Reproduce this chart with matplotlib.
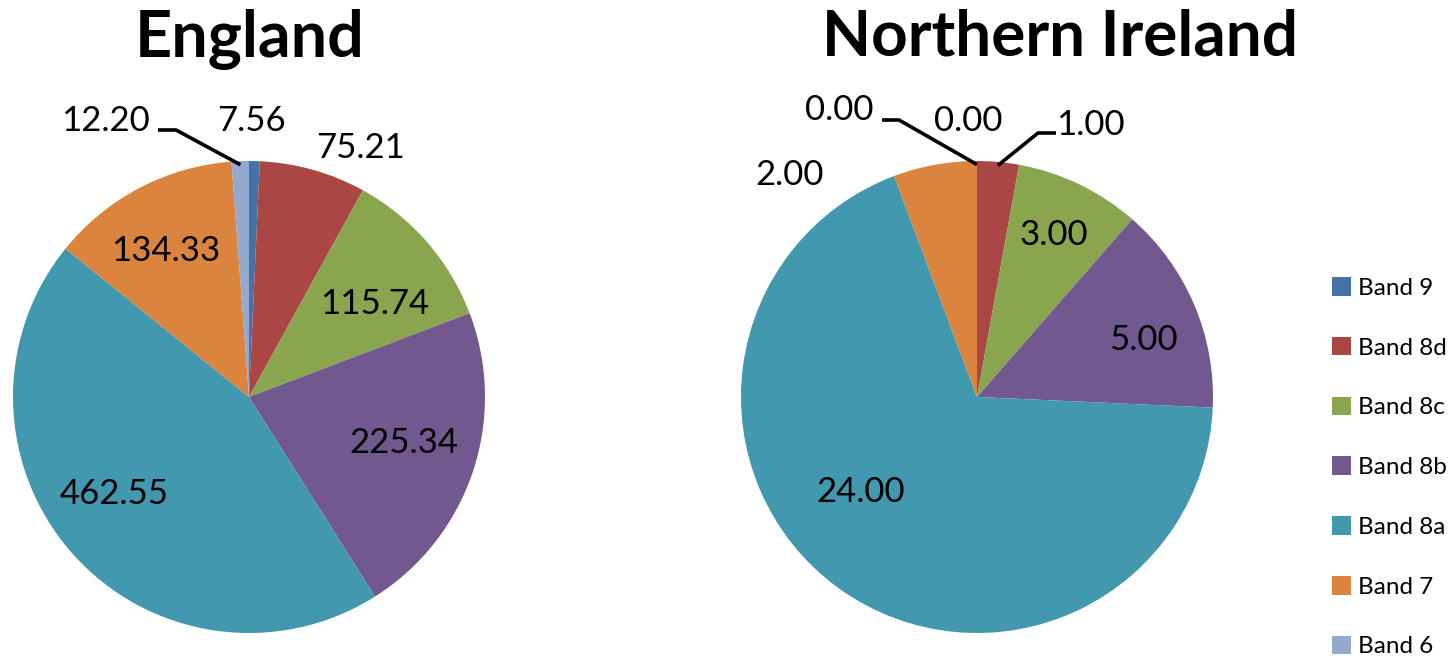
import numpy as np
import matplotlib
matplotlib.use("Agg")
import matplotlib.pyplot as plt

plt.rcParams['font.family'] = ['Lato', 'DejaVu Sans']

# Data
bands = ["Band 9", "Band 8d", "Band 8c", "Band 8b", "Band 8a", "Band 7", "Band 6"]
england = [7.56, 75.21, 115.74, 225.34, 462.55, 134.33, 12.20]
northern_ireland = [0.00, 1.00, 3.00, 5.00, 24.00, 2.00, 0.00]
colors = ["#4572A7", "#AA4643", "#89A54E", "#71588F", "#4198AF", "#DB843D", "#93A9CF"]

# canvas in pixels, y measured from the top
W, H = 1450, 658


def px(x, y):
    return x, H - y


def draw_pie(ax, values, center, radius, label_pos, leaders):
    wedges, _ = ax.pie(values, colors=colors, startangle=90, counterclock=False,
                       center=px(*center), radius=radius,
                       wedgeprops=dict(linewidth=0))
    for v, (lx, ly) in zip(values, label_pos):
        ax.text(*px(lx, ly), "%.2f" % v, ha="center", va="center", fontsize=25)
    # leader lines: elbow points given, end point sits on the wedge
    for i, pts in leaders.items():
        w = wedges[i]
        mid = np.deg2rad((w.theta1 + w.theta2) / 2.0)
        cx, cy = px(*center)
        end = (cx + 0.985 * radius * np.cos(mid), cy + 0.985 * radius * np.sin(mid))
        xs = [px(*p)[0] for p in pts] + [end[0]]
        ys = [px(*p)[1] for p in pts] + [end[1]]
        ax.plot(xs, ys, color="black", lw=2.6, solid_capstyle="butt")
    return wedges


fig = plt.figure(figsize=(14.5, 6.58), dpi=100)
ax = fig.add_axes([0, 0, 1, 1])

eng_labels = [(251, 121), (361, 148), (375, 304), (404, 443), (114, 494), (166, 251), (106, 121)]
eng_wedges = draw_pie(ax, england, (249, 397), 236, eng_labels,
                      {6: [(158, 130), (176, 130)]})

ni_labels = [(968, 121), (1090, 125), (1054, 235), (1143, 340), (861, 492), (790, 175), (839, 110)]
draw_pie(ax, northern_ireland, (977, 397), 236, ni_labels,
         {6: [(882, 120), (899, 120)], 1: [(1056, 133), (1038, 133)]})

ax.text(*px(250, 57), "England", ha="center", va="baseline", fontsize=46.5, fontweight="bold")
ax.text(*px(1060, 55), "Northern Ireland", ha="center", va="baseline", fontsize=46, fontweight="bold")

ax.set_xlim(0, W)
ax.set_ylim(0, H)
ax.axis("off")

fig.legend(handles=eng_wedges, labels=bands, loc="upper left",
           bbox_to_anchor=(1332 / W, 1 - 277 / H), frameon=False, fontsize=17.5,
           handlelength=0.8, handleheight=0.8, handletextpad=0.25,
           labelspacing=1.565, borderpad=0, borderaxespad=0)

fig.savefig("out.png", dpi=100)
